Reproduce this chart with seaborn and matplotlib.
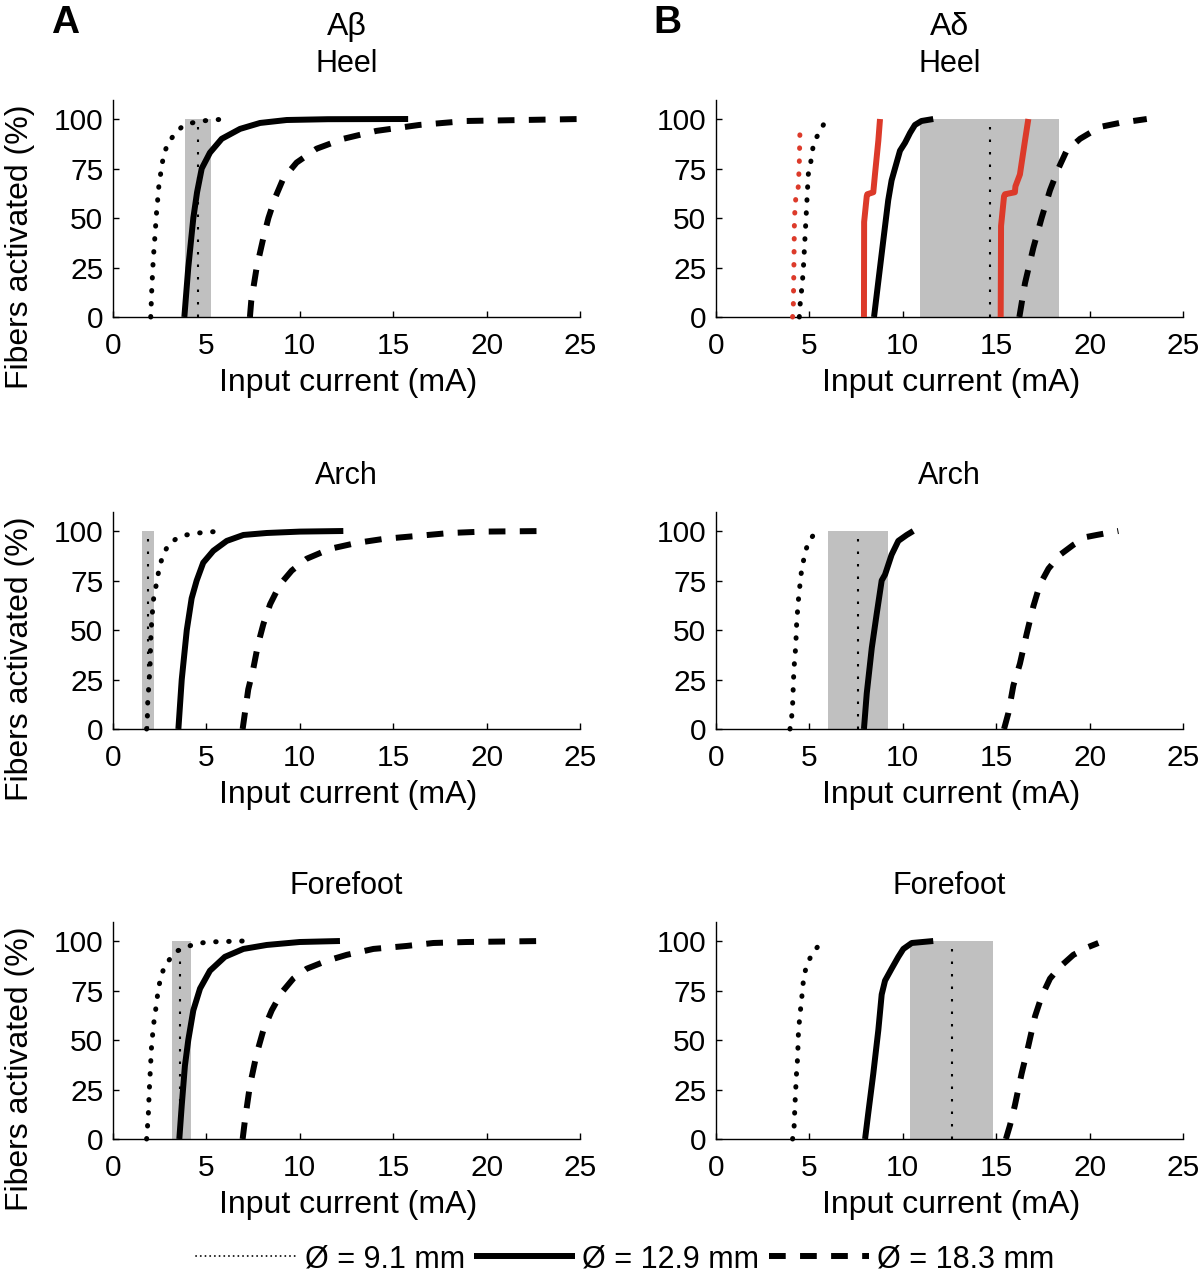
import numpy as np
import pandas as pd
import matplotlib.pyplot as plt
import seaborn as sns
from matplotlib.lines import Line2D

# ---- data (input current in mA, fibers activated in %) ----
columns = ["A\u03b2", "A\u03b4"]
sites = ["Heel", "Arch", "Forefoot"]
legend_labels = ["\u00d8 = 9.1 mm", "\u00d8 = 12.9 mm", "\u00d8 = 18.3 mm"]
xticks = [0, 5, 10, 15, 20, 25]
yticks = [0, 25, 50, 75, 100]

# A-beta, heel
ab_heel_d91_x = [2.02, 2.08, 2.16, 2.21, 2.34, 2.39, 2.44, 2.53, 2.62, 2.75, 2.96, 3.27, 3.68, 4.21, 4.75, 5.4, 6.2]
ab_heel_d91_y = [0, 15, 30, 36, 54, 59, 65, 71, 77, 83, 88, 92, 96, 98, 99, 99.6, 100]
ab_heel_d129_x = [3.82, 3.92, 4.03, 4.3, 4.5, 4.75, 5.19, 5.82, 6.8, 7.87, 9.3, 11.5, 15.8]
ab_heel_d129_y = [0, 12, 25, 50, 63, 75, 83, 90, 95, 98, 99.5, 99.9, 100]
ab_heel_d183_x = [7.33, 7.4, 7.69, 8.05, 8.32, 8.67, 9.12, 9.83, 10.9, 12.33, 14.1, 16.4, 18.9, 25.0]
ab_heel_d183_y = [0, 8, 25, 40, 50, 60, 70, 78, 85, 90, 94, 97, 99, 100]
ab_heel_range = [3.85, 4.53, 5.23]  # low, mean, high

# A-delta, heel
ad_heel_d91_x = [4.46, 4.5, 4.62, 4.68, 4.82, 4.94, 5.07, 5.16, 5.26, 5.6, 5.89]
ad_heel_d91_y = [0, 6, 17, 25, 50, 72, 78, 84, 89, 94, 100]
ad_heel_d129_x = [8.46, 8.69, 8.96, 9.22, 9.4, 9.58, 9.85, 10.12, 10.39, 10.65, 11.0, 11.63]
ad_heel_d129_y = [0, 18, 39, 59, 69, 75, 84, 88, 93, 97, 99, 100]
ad_heel_d183_x = [16.24, 16.54, 16.99, 17.43, 17.88, 18.33, 18.77, 19.49, 20.56, 21.6, 23.06]
ad_heel_d183_y = [0, 17, 35, 50, 64, 75, 84, 90, 96, 98, 100]
ad_heel_range = [10.92, 14.67, 18.38]
# red curves (A-delta heel only): one dotted, two solid
ad_heel_red_dot_x = [4.1, 4.14, 4.17, 4.2, 4.27, 4.41, 4.46, 4.5]
ad_heel_red_dot_y = [0, 6, 25, 50, 60, 66, 78, 97]
ad_heel_red_a_x = [7.92, 7.93, 8.07, 8.1, 8.42, 8.45, 8.51, 8.69, 8.78]
ad_heel_red_a_y = [0, 48, 61, 62, 63, 66, 72, 89, 100]
ad_heel_red_b_x = [15.24, 15.26, 15.42, 15.47, 16.0, 16.03, 16.27, 16.54, 16.72]
ad_heel_red_b_y = [0, 46, 61, 62, 63, 66, 72, 89, 100]

# A-beta, arch
ab_arch_d91_x = [1.8, 1.84, 1.85, 1.98, 2.02, 2.07, 2.16, 2.28, 2.39, 2.52, 2.69, 2.96, 3.37, 3.91, 4.57, 5.19, 5.82]
ab_arch_d91_y = [0, 6, 12, 31, 45, 54, 65, 71, 77, 83, 88, 93, 96, 98, 99, 99.5, 100]
ab_arch_d129_x = [3.5, 3.68, 3.95, 4.21, 4.48, 4.83, 5.37, 6.09, 6.98, 8.23, 10.0, 12.33]
ab_arch_d129_y = [0, 25, 50, 66, 75, 84, 90, 95, 98, 99, 99.7, 100]
ab_arch_d183_x = [6.94, 7.24, 7.5, 7.77, 8.05, 8.41, 8.94, 9.57, 10.37, 11.62, 13.05, 14.47, 16.26, 18.04, 19.82, 23.2]
ab_arch_d183_y = [0, 20, 30, 43, 53, 63, 73, 80, 86, 91, 94, 96, 97.5, 99, 99.7, 100]
ab_arch_range = [1.57, 1.89, 2.19]

# A-delta, arch
ad_arch_d91_x = [3.96, 4.05, 4.1, 4.17, 4.22, 4.27, 4.32, 4.41, 4.55, 4.76, 4.94, 5.35]
ad_arch_d91_y = [0, 6, 12, 30, 36, 42, 54, 65, 78, 89, 94, 100]
ad_arch_d129_x = [7.92, 8.07, 8.34, 8.6, 8.87, 9.05, 9.4, 9.76, 10.21, 10.56]
ad_arch_d129_y = [0, 18, 41, 58, 75, 78, 88, 95, 98, 100]
ad_arch_d183_x = [15.42, 15.65, 15.92, 16.27, 16.63, 16.99, 17.34, 17.8, 18.42, 19.13, 19.84, 20.38, 21.54]
ad_arch_d183_y = [0, 8, 22, 33, 48, 62, 73, 81, 88, 93, 97, 98, 100]
ad_arch_range = [5.98, 7.62, 9.19]

# A-beta, forefoot
ab_fore_d91_x = [1.8, 1.89, 1.94, 2.07, 2.19, 2.28, 2.43, 2.57, 2.75, 3.05, 3.44, 3.94, 4.39, 5.07, 6.98]
ab_fore_d91_y = [0, 12, 24, 48, 59, 65, 76, 82, 87, 91, 95, 97, 98.5, 99.5, 100]
ab_fore_d129_x = [3.55, 3.68, 3.85, 4.03, 4.3, 4.66, 5.19, 5.99, 6.98, 8.23, 10.0, 12.15]
ab_fore_d129_y = [0, 17, 37, 50, 65, 76, 85, 92, 96, 98, 99.5, 100]
ab_fore_d183_x = [6.94, 7.07, 7.33, 7.69, 8.05, 8.5, 9.03, 9.65, 10.37, 11.44, 12.51, 13.94, 15.72, 17.15, 18.93, 23.04]
ab_fore_d183_y = [0, 10, 27, 43, 55, 65, 74, 81, 86, 90, 93, 96, 97.5, 99, 99.5, 100]
ab_fore_range = [3.18, 3.59, 4.16]

# A-delta, forefoot
ad_fore_d91_x = [4.1, 4.18, 4.23, 4.32, 4.37, 4.41, 4.46, 4.52, 4.59, 4.64, 4.73, 4.86, 5.12, 5.51]
ad_fore_d91_y = [0, 6, 18, 35, 41, 53, 59, 65, 71, 77, 83, 88, 93, 98]
ad_fore_d129_x = [7.98, 8.15, 8.42, 8.69, 8.87, 9.05, 9.4, 9.76, 10.03, 10.48, 11.63]
ad_fore_d129_y = [0, 13, 33, 55, 73, 80, 86, 92, 96, 99, 100]
ad_fore_d183_x = [15.52, 15.74, 16.0, 16.36, 16.72, 17.08, 17.43, 17.88, 18.42, 19.13, 19.94, 20.47]
ad_fore_d183_y = [0, 7, 17, 33, 47, 62, 72, 81, 87, 93, 97, 99]
ad_fore_range = [10.39, 12.62, 14.81]

# ---- styles ----
RED = "#dc3a2a"
GREY = "#c0c0c0"
DOT = dict(linestyle=(0, (0.1, 2.5)), linewidth=3.6, dash_capstyle="round")
SOLID = dict(linestyle="-", linewidth=4.3, solid_capstyle="butt")
DASH = dict(linestyle=(0, (2.8, 2.4)), linewidth=4.3, dash_capstyle="butt")
styles = [DOT, SOLID, DASH]
red_styles = [DOT, SOLID, SOLID]

sns.set_theme(style="ticks", rc={
    "xtick.direction": "in", "ytick.direction": "in",
    "xtick.major.size": 4, "ytick.major.size": 4,
    "xtick.major.width": 1, "ytick.major.width": 1,
    "axes.linewidth": 1, "axes.edgecolor": "black",
    "xtick.color": "black", "ytick.color": "black",
    "text.color": "black", "axes.labelcolor": "black",
})
plt.rcParams["font.family"] = ["Liberation Sans", "DejaVu Sans"]

panels = {
    (0, 0): ([(ab_heel_d91_x, ab_heel_d91_y), (ab_heel_d129_x, ab_heel_d129_y), (ab_heel_d183_x, ab_heel_d183_y)], ab_heel_range, None),
    (0, 1): ([(ad_heel_d91_x, ad_heel_d91_y), (ad_heel_d129_x, ad_heel_d129_y), (ad_heel_d183_x, ad_heel_d183_y)], ad_heel_range,
             [(ad_heel_red_dot_x, ad_heel_red_dot_y), (ad_heel_red_a_x, ad_heel_red_a_y), (ad_heel_red_b_x, ad_heel_red_b_y)]),
    (1, 0): ([(ab_arch_d91_x, ab_arch_d91_y), (ab_arch_d129_x, ab_arch_d129_y), (ab_arch_d183_x, ab_arch_d183_y)], ab_arch_range, None),
    (1, 1): ([(ad_arch_d91_x, ad_arch_d91_y), (ad_arch_d129_x, ad_arch_d129_y), (ad_arch_d183_x, ad_arch_d183_y)], ad_arch_range, None),
    (2, 0): ([(ab_fore_d91_x, ab_fore_d91_y), (ab_fore_d129_x, ab_fore_d129_y), (ab_fore_d183_x, ab_fore_d183_y)], ab_fore_range, None),
    (2, 1): ([(ad_fore_d91_x, ad_fore_d91_y), (ad_fore_d129_x, ad_fore_d129_y), (ad_fore_d183_x, ad_fore_d183_y)], ad_fore_range, None),
}

W, H = 1200, 1279
fig = plt.figure(figsize=(W / 100, H / 100), dpi=100)
col_left = [113, 716]
row_bottom = [317, 729, 1139]
ax_w, ax_h = 467, 217

for (r, c), (curves, rng, red) in panels.items():
    ax = fig.add_axes([col_left[c] / W, 1 - row_bottom[r] / H, ax_w / W, ax_h / H])

    # measured threshold range (shaded) and its mean (dotted)
    ax.fill_between([rng[0], rng[2]], 0, 100, color=GREY, lw=0, zorder=1)
    ax.vlines(rng[1], 0, 100, colors="black", linestyles=(0, (1.2, 4.8)), linewidth=1.5, zorder=2)

    if red is not None:
        for (x, y), st in zip(red, red_styles):
            sns.lineplot(x=x, y=y, ax=ax, sort=False, estimator=None, color=RED,
                         clip_on=False, zorder=3, **st)
    for (x, y), st in zip(curves, styles):
        sns.lineplot(x=x, y=y, ax=ax, sort=False, estimator=None, color="black",
                     clip_on=False, zorder=4, **st)

    ax.set_xlim(0, 25)
    ax.set_ylim(0, 109.6)
    ax.set_xticks(xticks)
    ax.set_yticks(yticks)
    ax.tick_params(axis="x", labelsize=21.5, pad=11)
    ax.tick_params(axis="y", labelsize=21.5, pad=7)
    sns.despine(ax=ax)

    ax.set_xlabel("Input current (mA)", fontsize=23)
    ax.xaxis.set_label_coords(0.503, -0.235)
    if c == 0:
        ax.set_ylabel("Fibers activated (%)", fontsize=23)
        ax.yaxis.set_label_coords(-0.168, 0.325)
    else:
        ax.set_ylabel("")

    ax.text(0.5, 1 + 36 / ax_h, sites[r], transform=ax.transAxes,
            ha="center", va="center", fontsize=22)
    if r == 0:
        ax.text(0.5, 1 + 73 / ax_h, columns[c], transform=ax.transAxes,
                ha="center", va="center", fontsize=23)
        ax.text(-0.103, 1 + 77 / ax_h, "AB"[c], transform=ax.transAxes,
                ha="center", va="center", fontsize=28, fontweight="bold")

legend_dot = dict(DOT, linewidth=1.3)
handles = [Line2D([], [], color="black", **st) for st in [legend_dot, SOLID, DASH]]
fig.legend(handles, legend_labels, loc="center", bbox_to_anchor=(0.521, 1 - 1259 / H),
           ncol=3, frameon=False, fontsize=22, handlelength=3.3,
           handletextpad=0.25, columnspacing=0.3)

fig.savefig("out.png", dpi=100)
